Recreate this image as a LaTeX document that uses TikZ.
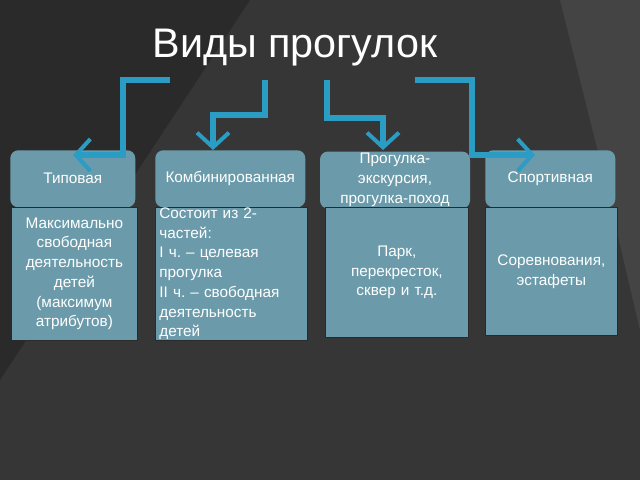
\documentclass[tikz,border=0pt]{standalone}
\usepackage{fontspec}
\setmainfont{Liberation Sans}
\frenchspacing
\usetikzlibrary{arrows.meta}
\definecolor{bg}{HTML}{363636}
\definecolor{bgd}{HTML}{2A2A2A}
\definecolor{bgl}{HTML}{444444}
\definecolor{boxc}{HTML}{6B9BAA}
\definecolor{lnc}{HTML}{2B9CC4}
\begin{document}
\begin{tikzpicture}[x=0.75pt,y=-0.75pt,
  hdr/.style={fill=boxc,rounded corners=6pt,text=white,font=\fontsize{11.5}{15}\selectfont,align=center,anchor=north west,inner sep=2pt},
  body/.style={fill=boxc,draw=bgd,line width=0.6pt,text=white,font=\fontsize{11.5}{14.8}\selectfont,anchor=north west,inner sep=3pt},
  conn/.style={draw=lnc,line width=4pt,-{Straight Barb[length=11pt,width=24pt,line width=3pt]}}]
\fill[bg] (0,0) rectangle (640,480);
\fill[bgd] (0,0) -- (250,0) -- (0,380) -- cycle;
\fill[bgl] (560,0) -- (640,0) -- (640,330) -- (600,160) -- cycle;
\useasboundingbox (0,0) rectangle (640,480);
\node[text=white,font=\fontsize{31}{34}\selectfont] (title) at (295,48) {Виды прогулок};
% headers
\node[hdr,minimum width=125*0.75pt,minimum height=57*0.75pt] (h1) at (10,150) {Типовая};
\node[hdr,minimum width=150*0.75pt,minimum height=57*0.75pt] (h2) at (155,150) {Комбинированная};
\node[hdr,minimum width=150*0.75pt,minimum height=57*0.75pt,inner ysep=0pt,anchor=center] (h3) at (395,180) {Прогулка-\\экскурсия,\\прогулка-поход};
\node[hdr,minimum width=130*0.75pt,minimum height=57*0.75pt] (h4) at (485,150) {Спортивная};
% bodies
\node[body,minimum width=124*0.75pt,minimum height=133*0.75pt,align=center,text width=118*0.75pt] (b1) at (11,207) {Максимально\\свободная\\деятельность\\детей\\(максимум\\атрибутов)};
\node[body,minimum width=150*0.75pt,minimum height=133*0.75pt,align=left,text width=144*0.75pt,inner ysep=0pt] (b2) at (155,207) {Состоит из 2-\\частей:\\I ч. – целевая\\прогулка\\II ч. – свободная\\деятельность\\детей};
\node[body,minimum width=141*0.75pt,minimum height=130*0.75pt,align=center,text width=135*0.75pt] (b3) at (325,207) {Парк,\\перекресток,\\сквер и т.д.};
\node[body,minimum width=130*0.75pt,minimum height=128*0.75pt,align=center,text width=124*0.75pt] (b4) at (485,207) {Соревнования,\\эстафеты};
% connectors
\coordinate (s1) at (170,80); \coordinate (s2) at (265,80);
\coordinate (s3) at (327,80); \coordinate (s4) at (415,80);
\coordinate (e1) at (73,155); \coordinate (e2) at (213,150);
\coordinate (e3) at (383,150); \coordinate (e4) at (535,155);
\draw[conn] (s1) -- (123,80) -- (123,155) -- (e1);
\draw[conn] (s2) -- (265,115) -- (213,115) -- (e2);
\draw[conn] (s3) -- (327,118) -- (383,118) -- (e3);
\draw[conn] (s4) -- (472,80) -- (472,155) -- (e4);
\end{tikzpicture}
\end{document}
